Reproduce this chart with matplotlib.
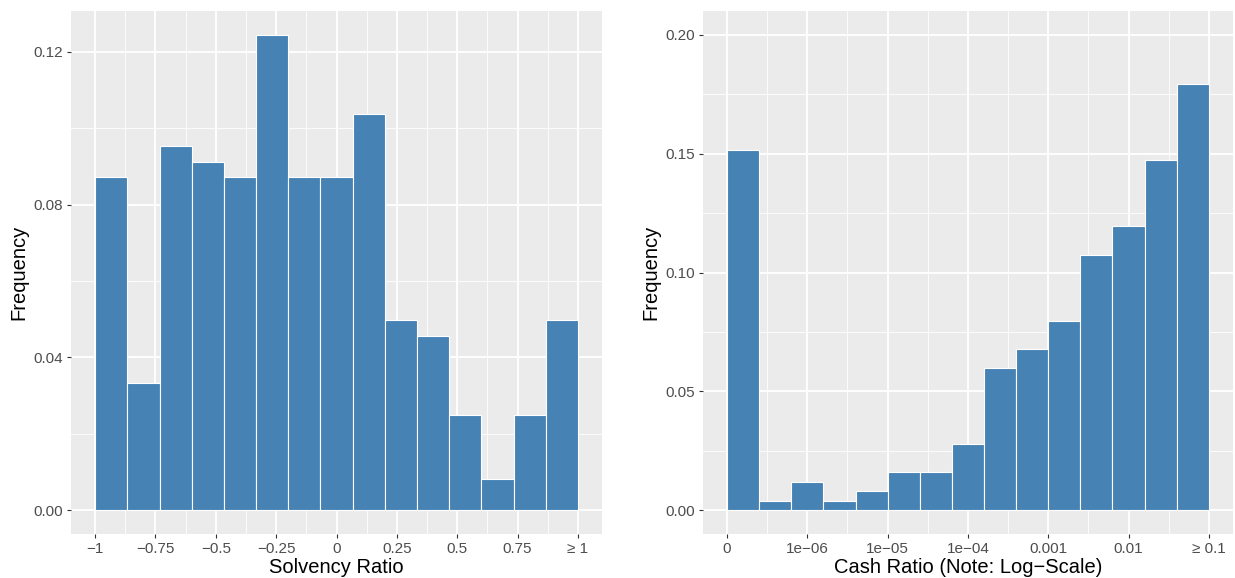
import numpy as np
import matplotlib
matplotlib.use("Agg")
import matplotlib.pyplot as plt

# left panel: solvency ratio, 15 bins from -1 to >=1
solv_counts = [21, 8, 23, 22, 21, 30, 21, 21, 25, 12, 11, 6, 2, 6, 12]
solv_ticks = [-1, -0.75, -0.5, -0.25, 0, 0.25, 0.5, 0.75, 1]
solv_labels = ["\u22121", "\u22120.75", "\u22120.5", "\u22120.25", "0", "0.25", "0.5", "0.75", "\u2265 1"]
solv_yticks = [0.0, 0.04, 0.08, 0.12]
solv_ylabels = ["0.00", "0.04", "0.08", "0.12"]

# right panel: cash ratio on log scale (0 .. >=0.1 mapped to 0..6)
cash_counts = [38, 1, 3, 1, 2, 4, 4, 7, 15, 17, 20, 27, 30, 37, 45]
cash_ticks = [0, 1, 2, 3, 4, 5, 6]
cash_labels = ["0", "1e\u221206", "1e\u221205", "1e\u221204", "0.001", "0.01", "\u2265 0.1"]
cash_yticks = [0.0, 0.05, 0.10, 0.15, 0.20]
cash_ylabels = ["0.00", "0.05", "0.10", "0.15", "0.20"]

plt.rcParams['font.family'] = ['Liberation Sans', 'DejaVu Sans']

BAR = "#4682B4"
PANEL = "#EBEBEB"
TICKCOL = "#4D4D4D"


def style(ax, xt, xl, yt, yl, xmin, xmax):
    ax.set_facecolor(PANEL)
    for s in ax.spines.values():
        s.set_visible(False)
    ax.set_xticks(xt)
    ax.set_xticklabels(xl)
    ax.set_yticks(yt)
    ax.set_yticklabels(yl)
    xminor = [(a + b) / 2 for a, b in zip(xt[:-1], xt[1:])]
    yminor = [(a + b) / 2 for a, b in zip(yt[:-1], yt[1:])]
    ax.set_xticks(xminor, minor=True)
    ax.set_yticks(yminor, minor=True)
    ax.grid(which="major", color="white", linewidth=1.3)
    ax.grid(which="minor", color="white", linewidth=0.6)
    ax.set_axisbelow(True)
    ax.tick_params(which="major", length=2.6, width=0.8, color="#333333",
                   labelcolor=TICKCOL, labelsize=11, pad=3.0)
    ax.tick_params(which="minor", length=0)
    ax.set_xlim(xmin, xmax)


fig = plt.figure(figsize=(12.35, 5.78), dpi=100)
ax1 = fig.add_axes([0.0575, 0.0761, 0.4300, 0.9048])
ax2 = fig.add_axes([0.5692, 0.0761, 0.4291, 0.9048])

# left histogram
n1 = sum(solv_counts)
f1 = np.array(solv_counts) / n1
edges1 = np.linspace(-1, 1, len(solv_counts) + 1)
ax1.bar(edges1[:-1], f1, width=np.diff(edges1), align="edge",
        color=BAR, edgecolor="white", linewidth=0.8, zorder=3)
style(ax1, solv_ticks, solv_labels, solv_yticks, solv_ylabels, -1.1, 1.1)
top1 = f1.max()
ax1.set_ylim(-0.05 * top1, 1.05 * top1)
ax1.set_xlabel("Solvency Ratio", fontsize=14.5, labelpad=1.5)
ax1.set_ylabel("Frequency", fontsize=14.5, labelpad=4)

# right histogram
n2 = sum(cash_counts)
f2 = np.array(cash_counts) / n2
edges2 = np.linspace(0, 6, len(cash_counts) + 1)
ax2.bar(edges2[:-1], f2, width=np.diff(edges2), align="edge",
        color=BAR, edgecolor="white", linewidth=0.8, zorder=3)
style(ax2, cash_ticks, cash_labels, cash_yticks, cash_ylabels, -0.3, 6.3)
ax2.set_ylim(-0.01, 0.21)
ax2.set_xlabel("Cash Ratio (Note: Log\u2212Scale)", fontsize=14.5, labelpad=1.5)
ax2.set_ylabel("Frequency", fontsize=14.5, labelpad=4)

fig.savefig("out.png", dpi=100, facecolor="white")
